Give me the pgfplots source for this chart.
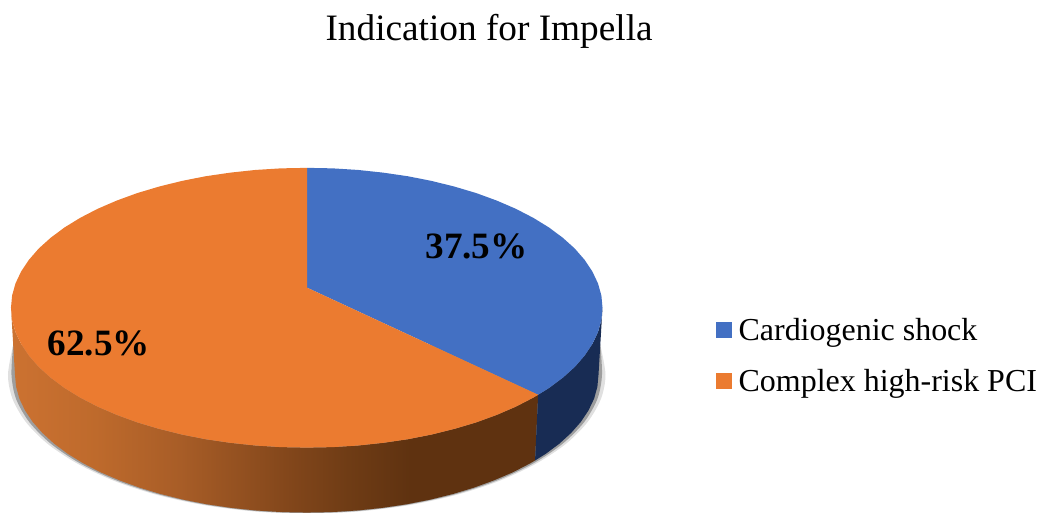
\documentclass[border=0pt]{standalone}
\usepackage{pgfplots}
\pgfplotsset{compat=1.18}
\usepackage{fontspec}
\setmainfont{Liberation Serif}
\definecolor{pieblue}{HTML}{4370C3}
\definecolor{pieorange}{HTML}{EB7B30}
\definecolor{wallblue}{HTML}{182C54}
\definecolor{c0}{HTML}{CC7231}
\definecolor{c1}{HTML}{BE6A2C}
\definecolor{c2}{HTML}{A85D27}
\definecolor{c3}{HTML}{80451A}
\definecolor{c4}{HTML}{6F3C15}
\definecolor{c5}{HTML}{5F3210}
\pgfdeclarehorizontalshading{wallshade}{100bp}{color(0bp)=(c0); color(25bp)=(c0); color(33bp)=(c1); color(41bp)=(c2); color(52bp)=(c3); color(57bp)=(c4); color(63bp)=(c5); color(75bp)=(c5); color(100bp)=(c5)}
\begin{document}
\begin{tikzpicture}
\begin{axis}[
  scale only axis, width=1044pt, height=513pt,
  xmin=0, xmax=1044, ymin=0, ymax=513, y dir=reverse,
  hide axis,
  legend image code/.code={\fill[#1,draw=none] (0pt,-5.5pt) rectangle (16pt,10.5pt);},
  legend cell align=left,
  legend style={at={(axis cs:716,317)}, anchor=north west, draw=none, fill=none, inner sep=0pt,
    font=\fontsize{32}{36}\selectfont,
    nodes={inner xsep=7pt, inner ysep=0pt, text height=24pt, text depth=7pt},
    /tikz/row sep=20pt},
]
% shadow
\addplot[forget plot, draw=none, fill=black!12, smooth] coordinates {
 (600.8,345) (606,375) (601.5,399.1) (588,422.5) (566,444.5) (536,464.3) (499.2,481.5) (456.5,495.4) (409.3,505.6) (358.9,511.9) (307,514)
 (255.1,511.9) (204.7,505.6) (157.5,495.4) (114.8,481.5) (78,464.3) (48,444.5) (26,422.5) (12.5,399.1) (8,375) (13.2,345)} --cycle;
\addplot[forget plot, draw=none, fill=black!38, smooth] coordinates {
 (600.8,345) (602.5,375) (598,399) (584.7,422.4) (562.9,444.25) (533.4,464) (496.9,481.1) (454.75,494.9) (408,505.1) (358.3,511.4) (307,513.5)
 (255.7,511.4) (206,505.1) (159.25,494.9) (117.1,481.1) (80.6,464) (51.1,444.25) (29.3,422.4) (16,399) (11.5,375) (13.2,345)} --cycle;
% walls
\addplot[forget plot, draw=none, shading=wallshade] coordinates {
 (538.6,395.1) (533.7,398) (516.3,407) (497.3,415.2) (476.8,422.7) (455,429.2) (432.1,434.9) (408.2,439.6) (383.6,443.2) (358.4,445.9) (332.8,447.5) (307,448)
 (281.2,447.5) (255.6,445.9) (230.4,443.2) (205.8,439.6) (181.9,434.9) (159,429.2) (137.2,422.7) (116.7,415.2) (97.7,407) (80.3,398) (64.5,388.3) (50.7,378)
 (38.7,367.2) (28.9,355.9) (21.1,344.2) (15.5,332.3) (12.1,320.2) (11,308)
 (15,375) (16.1,387) (19.4,399) (25,410.7) (32.6,422.2) (42.4,433.3) (54.1,444) (67.8,454.2) (83.3,463.7) (100.5,472.6) (119.5,480.7) (139.5,488) (161,494.5)
 (183.6,500.1) (207.1,504.7) (231.4,508.3) (256.3,510.9) (281.5,512.5) (307,513)
 (332.5,512.5) (357.7,510.9) (382.6,508.3) (406.9,504.7) (430.4,500.1) (453,494.5) (474.5,488) (494.5,480.7) (513.5,472.6) (530.7,463.7) (535.5,460.9)} --cycle;
\addplot[forget plot, draw=none, fill=wallblue] coordinates {
 (603,308) (601.9,320.2) (598.5,332.3) (592.9,344.2) (585.1,355.9) (575.3,367.2) (563.3,378) (549.5,388.3) (538.6,395.1)
 (535.5,460.9) (546.2,454.2) (559.9,444) (571.6,433.3) (581.4,422.2) (589,410.7) (594.6,399) (597.9,387) (599,375)} --cycle;
% top faces
\addplot[draw=none, fill=pieblue] coordinates {
 (307.5,288) (307.5,168) (332.8,168.5) (358.4,170.1) (383.6,172.8) (408.2,176.4) (432.1,181.1) (455,186.8) (476.8,193.3) (497.3,200.8) (516.3,209) (533.7,218)
 (549.5,227.7) (563.3,238) (575.3,248.8) (585.1,260.1) (592.9,271.8) (598.5,283.7) (601.9,295.8) (603,308)
 (601.9,320.2) (598.5,332.3) (592.9,344.2) (585.1,355.9) (575.3,367.2) (563.3,378) (549.5,388.3) (538.6,395.1)} --cycle;
\addlegendentry{Cardiogenic shock}
\addplot[draw=none, fill=pieorange] coordinates {
 (307.5,288) (538.6,395.1) (533.7,398) (516.3,407) (497.3,415.2) (476.8,422.7) (455,429.2) (432.1,434.9) (408.2,439.6) (383.6,443.2) (358.4,445.9) (332.8,447.5) (307,448)
 (281.2,447.5) (255.6,445.9) (230.4,443.2) (205.8,439.6) (181.9,434.9) (159,429.2) (137.2,422.7) (116.7,415.2) (97.7,407) (80.3,398) (64.5,388.3) (50.7,378)
 (38.7,367.2) (28.9,355.9) (21.1,344.2) (15.5,332.3) (12.1,320.2) (11,308) (12.1,295.8) (15.5,283.7) (21.1,271.8) (28.9,260.1) (38.7,248.8) (50.7,238)
 (64.5,227.7) (80.3,218) (97.7,209) (116.7,200.8) (137.2,193.3) (159,186.8) (181.9,181.1) (205.8,176.4) (230.4,172.8) (255.6,170.1) (281.2,168.5) (307.5,168)} --cycle;
\addlegendentry{Complex high-risk PCI}
% labels
\node[anchor=base, font=\fontsize{37.2}{40}\selectfont\bfseries] at (axis cs:477,259) {37.5\%};
\node[anchor=base, font=\fontsize{37.2}{40}\selectfont\bfseries] at (axis cs:99,356) {62.5\%};
\node[anchor=base, font=\fontsize{37.3}{40}\selectfont] at (axis cs:489.5,41) {Indication for Impella};
\path (axis cs:0,0) rectangle (axis cs:1044,513);
\end{axis}
\end{tikzpicture}
\end{document}
